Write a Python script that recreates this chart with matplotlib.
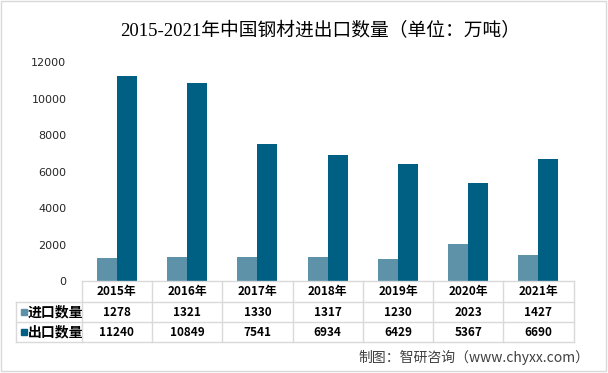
import matplotlib
matplotlib.use("Agg")
import matplotlib.pyplot as plt
from matplotlib.transforms import blended_transform_factory
from matplotlib.lines import Line2D
from matplotlib.patches import Rectangle

plt.rcParams['font.family'] = ['Noto Sans CJK SC', 'DejaVu Sans']

years = ['2015年', '2016年', '2017年', '2018年', '2019年', '2020年', '2021年']
series_names = ['进口数量', '出口数量']
imports = [1278, 1321, 1330, 1317, 1230, 2023, 1427]
exports = [11240, 10849, 7541, 6934, 6429, 5367, 6690]
yticks = [0, 2000, 4000, 6000, 8000, 10000, 12000]
colors = ['#5E92A8', '#006084']

W, H = 608, 373
fig = plt.figure(figsize=(W / 100, H / 100), dpi=100)

def fy(py):
    return 1 - py / H

def fx(px):
    return px / W

# frame around the figure
fig.patches.append(Rectangle((fx(1), fy(371)), fx(605), (371 - 1) / H,
                             transform=fig.transFigure, fill=False,
                             edgecolor='#D9D9D9', linewidth=1))

ax = fig.add_axes([fx(81.7), fy(281), fx(573.6) - fx(81.7), fy(62.5) - fy(281)])
n = len(years)
xs = list(range(n))
w = 0.285
ax.bar([x - w / 2 for x in xs], imports, width=w, color=colors[0], label=series_names[0])
ax.bar([x + w / 2 for x in xs], exports, width=w, color=colors[1], label=series_names[1])
ax.set_xlim(-0.5, n - 0.5)
ax.set_ylim(0, 12000)
ax.set_yticks(yticks)
ax.set_yticklabels([str(t) for t in yticks], fontsize=8, color='#262626', family='DejaVu Sans')
ax.tick_params(axis='y', length=0, pad=11)
ax.set_xticks([])
for s in ax.spines.values():
    s.set_visible(False)

# data table below
tr = blended_transform_factory(ax.transData, fig.transFigure)
grid_c = '#D9D9D9'
row_y = [281, 302, 322, 342]
left_px = 16

def hline(x0, x1, py):
    fig.add_artist(Line2D([x0, x1], [fy(py), fy(py)], transform=fig.transFigure,
                          color=grid_c, linewidth=1, clip_on=False))

def vline(xd, py0, py1):
    fig.add_artist(Line2D([xd, xd], [fy(py0), fy(py1)], transform=tr,
                          color=grid_c, linewidth=1, clip_on=False))

hline(fx(81.7), fx(573.6), 281)
for py in row_y[1:]:
    hline(fx(left_px), fx(573.6), py)
for i in range(n + 1):
    vline(i - 0.5, 281, 342)
fig.add_artist(Line2D([fx(left_px), fx(left_px)], [fy(302), fy(342)],
                      transform=fig.transFigure, color=grid_c, linewidth=1))

# header
for i, yr in enumerate(years):
    fig.text(i, fy(291.5), yr, transform=tr, ha='center', va='center',
             fontsize=8.5, fontweight='bold', color='#000000')

rows = [imports, exports]
for r, (name, vals) in enumerate(zip(series_names, rows)):
    cy = fy((row_y[r + 1] + row_y[r + 2]) / 2)
    fig.patches.append(Rectangle((fx(20.5), cy - 3.2 / H), 6.4 / W, 6.4 / H,
                                 transform=fig.transFigure, color=colors[r]))
    fig.text(fx(28), cy, name, ha='left', va='center', fontsize=10,
             fontweight='bold', color='#000000')
    for i, v in enumerate(vals):
        fig.text(i, cy, str(v), transform=tr, ha='center', va='center',
                 fontsize=8.5, fontweight='bold', color='#000000')

# title
fig.text(fx(320), fy(31), '2015-2021年中国钢材进出口数量（单位：万吨）', ha='center', va='center',
         fontsize=13.5, family=['Liberation Serif', 'Noto Sans CJK SC'], color='#000000')

# source
fig.text(fx(589), fy(357), '制图：智研咨询（www.chyxx.com）', ha='right', va='center',
         fontsize=10, color='#404040')

fig.savefig('out.png', dpi=100)
